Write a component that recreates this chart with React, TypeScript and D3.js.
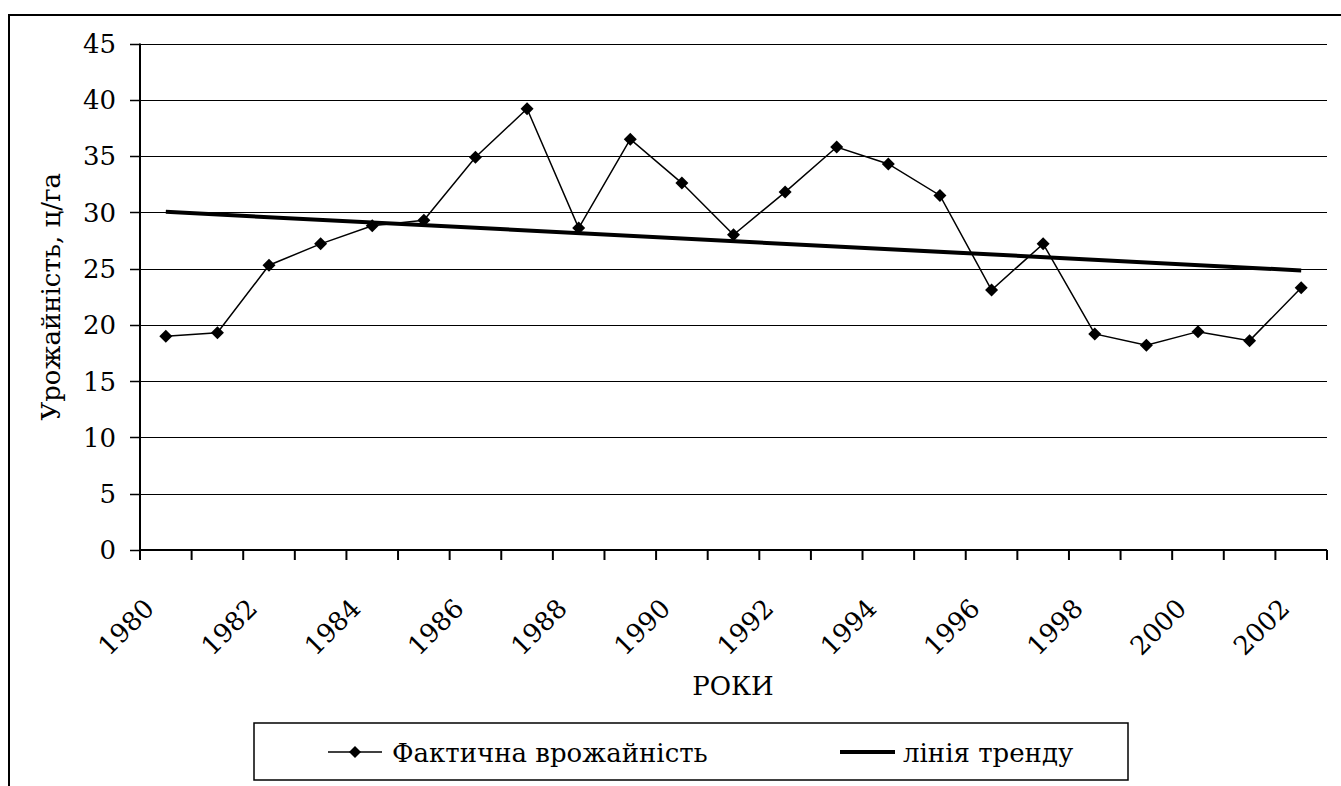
import React from "react";
import * as d3 from "d3";

const years: number[] = [1980,1981,1982,1983,1984,1985,1986,1987,1988,1989,1990,1991,1992,1993,1994,1995,1996,1997,1998,1999,2000,2001,2002];
const yieldValues: number[] = [19.0,19.3,25.3,27.2,28.8,29.3,34.9,39.2,28.6,36.5,32.6,28.0,31.8,35.8,34.3,31.5,23.1,27.2,19.2,18.2,19.4,18.6,23.3];
const yTicks: number[] = [0,5,10,15,20,25,30,35,40,45];
const xLabelYears: number[] = [1980,1982,1984,1986,1988,1990,1992,1994,1996,1998,2000,2002];
const yTitle = "Урожайність, ц/га";
const xTitle = "РОКИ";
const seriesName = "Фактична врожайність";
const trendName = "лінія тренду";

const W = 1341, H = 786;
const FONT = "DejaVu Serif";
const ts: React.CSSProperties = { fontFamily: FONT };
const FS = 26;

export default function App() {
  const plotL = 140, plotR = 1327, plotT = 43.5, plotB = 550;
  const x = d3.scaleBand<number>().domain(years).range([plotL, plotR]).padding(0);
  const y = d3.scaleLinear().domain([0, 45]).range([plotB, plotT]);
  const cx = (yr: number) => (x(yr) as number) + x.bandwidth() / 2;

  // linear least-squares trend
  const n = yieldValues.length;
  const idx = d3.range(n);
  const mi = d3.mean(idx) as number;
  const my = d3.mean(yieldValues) as number;
  const slope = d3.sum(idx, (i) => (i - mi) * (yieldValues[i] - my)) / d3.sum(idx, (i) => (i - mi) ** 2);
  const trend = (i: number) => my + slope * (i - mi);

  const line = d3.line<number>().x((i) => cx(years[i])).y((i) => y(yieldValues[i]));
  const trendLine = d3.line<number>().x((i) => cx(years[i])).y((i) => y(trend(i)));

  const diamond = (px: number, py: number, r: number) =>
    `M${px},${py - r}L${px + r},${py}L${px},${py + r}L${px - r},${py}Z`;

  const boundaries = d3.range(n + 1).map((k) => plotL + k * x.bandwidth());

  return (
    <svg width={W} height={H} style={{ position: "absolute", left: 0, top: 0, background: "#fff", fontFamily: FONT }}>
      <rect x={0} y={0} width={W} height={H} fill="#fff" />
      {/* outer frame */}
      <rect x={9} y={15} width={W + 20} height={H + 20} fill="none" stroke="#000" strokeWidth={2} />
      {/* gridlines */}
      {yTicks.filter((t) => t > 0).map((t) => (
        <line key={"g" + t} x1={plotL} x2={plotR} y1={Math.round(y(t)) + 0.5} y2={Math.round(y(t)) + 0.5} stroke="#000" strokeWidth={1} />
      ))}
      {/* y axis */}
      <line x1={plotL} x2={plotL} y1={plotT} y2={plotB} stroke="#000" strokeWidth={2} />
      {yTicks.map((t) => (
        <g key={"yt" + t}>
          <line x1={plotL - 10} x2={plotL} y1={Math.round(y(t)) + 0.5} y2={Math.round(y(t)) + 0.5} stroke="#000" strokeWidth={1.5} />
          <text style={ts} x={116} y={y(t)} dy="0.36em" textAnchor="end" fontSize={FS}>{t}</text>
        </g>
      ))}
      {/* x axis */}
      <line x1={plotL} x2={plotR} y1={plotB} y2={plotB} stroke="#000" strokeWidth={2} />
      {boundaries.map((bx, k) => (
        <line key={"xt" + k} x1={bx} x2={bx} y1={plotB} y2={plotB + 10} stroke="#000" strokeWidth={2} />
      ))}
      {xLabelYears.map((yr) => {
        const ax = cx(yr) - 10;
        const ay = 610;
        return (
          <text style={ts} key={"xl" + yr} x={ax} y={ay} textAnchor="end" fontSize={FS} transform={`rotate(-45 ${ax} ${ay})`}>{yr}</text>
        );
      })}
      {/* titles */}
      <text style={ts} x={60} y={(plotT + plotB) / 2} textAnchor="middle" fontSize={FS} transform={`rotate(-90 60 ${(plotT + plotB) / 2})`}>{yTitle}</text>
      <text style={ts} x={733} y={695} textAnchor="middle" fontSize={FS}>{xTitle}</text>
      {/* series */}
      <path d={line(idx) as string} fill="none" stroke="#000" strokeWidth={1.5} />
      {idx.map((i) => (
        <path key={"m" + i} d={diamond(cx(years[i]), y(yieldValues[i]), 6.5)} fill="#000" />
      ))}
      <path d={trendLine([0, n - 1]) as string} fill="none" stroke="#000" strokeWidth={4} />
      {/* legend */}
      <rect x={254} y={723} width={874} height={57} fill="#fff" stroke="#000" strokeWidth={1.5} />
      <line x1={328} x2={382} y1={752} y2={752} stroke="#000" strokeWidth={1.5} />
      <path d={diamond(355, 752, 6)} fill="#000" />
      <text style={ts} x={392} y={762} fontSize={FS}>{seriesName}</text>
      <line x1={840} x2={895} y1={752} y2={752} stroke="#000" strokeWidth={4} />
      <text style={ts} x={903} y={762} fontSize={FS}>{trendName}</text>
    </svg>
  );
}
